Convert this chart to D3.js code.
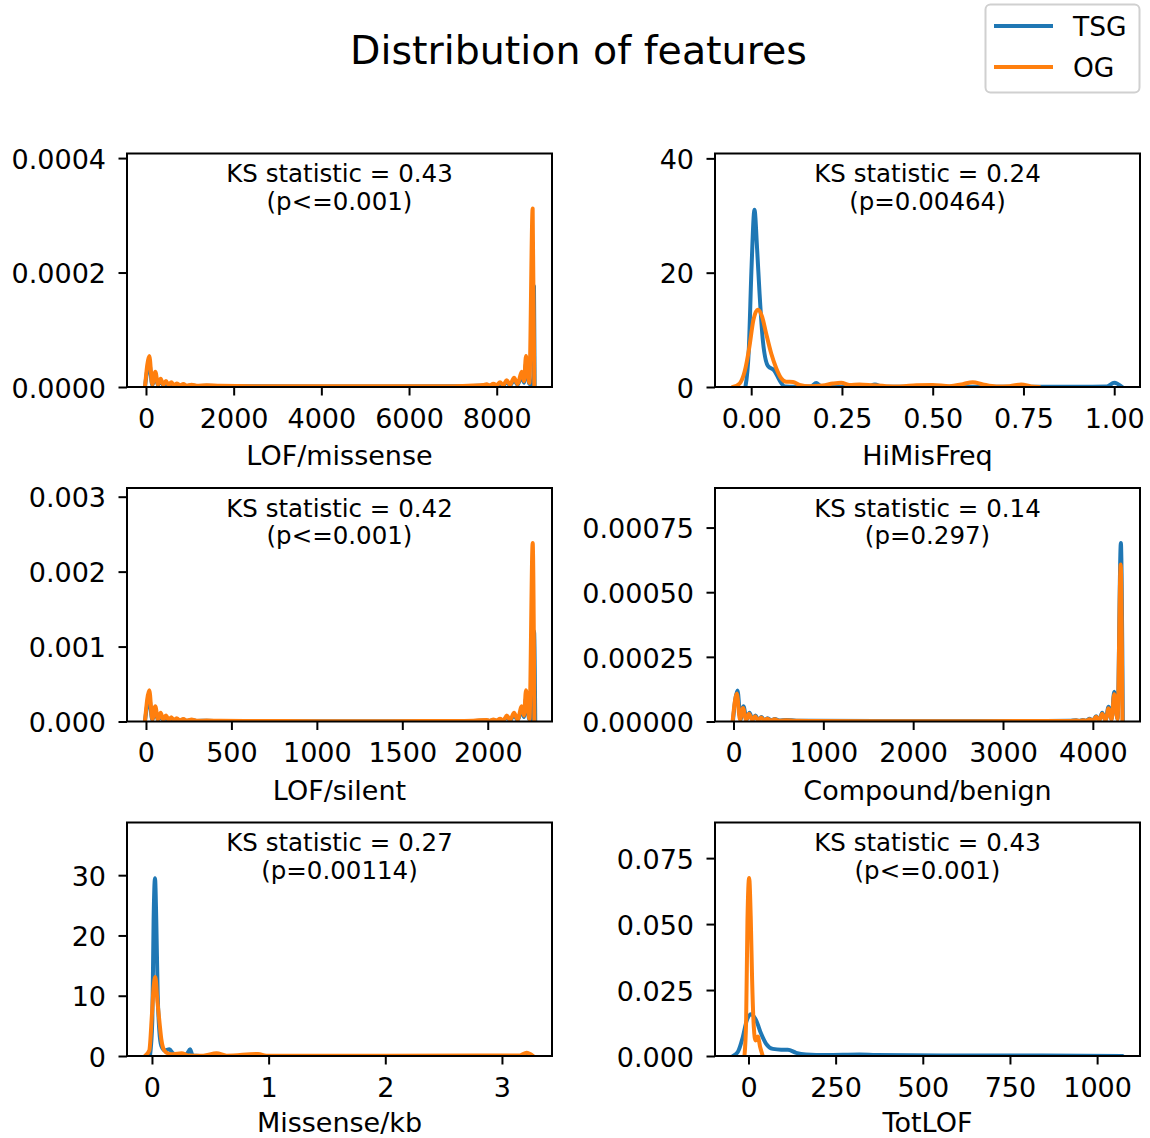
<!DOCTYPE html>
<html><head><meta charset="utf-8">
<script src="https://cdn.jsdelivr.net/npm/d3@7"></script>
<style>
body{margin:0;background:#fff;}
text{font-family:"DejaVu Sans",sans-serif;fill:#000;}
</style>
</head><body>
<svg id="chart" width="1150" height="1138"></svg>
<script>
// ---------------- DATA ----------------
const chartTitle = "Distribution of features";
const seriesNames = ["TSG", "OG"];
const featureNames = ["LOF/missense", "HiMisFreq", "LOF/silent", "Compound/benign", "Missense/kb", "TotLOF"];
const ksStats = ["0.43", "0.24", "0.42", "0.14", "0.27", "0.43"];
const pValues = ["p<=0.001", "p=0.00464", "p<=0.001", "p=0.297", "p=0.00114", "p<=0.001"];

const xLimits = [[-433, 9261], [-0.0997, 1.071], [-111, 2376], [-206, 4525], [-0.214, 3.429], [-96, 1123]];
const yLimits = [[0, 0.000408], [0, 40.85], [0, 0.003116], [0, 0.000903], [0, 38.74], [0, 0.0885]];

const xTickValues = [[0, 2000, 4000, 6000, 8000], [0, 0.25, 0.5, 0.75, 1], [0, 500, 1000, 1500, 2000], [0, 1000, 2000, 3000, 4000], [0, 1, 2, 3], [0, 250, 500, 750, 1000]];
const xTickLabels = [["0", "2000", "4000", "6000", "8000"], ["0.00", "0.25", "0.50", "0.75", "1.00"], ["0", "500", "1000", "1500", "2000"], ["0", "1000", "2000", "3000", "4000"], ["0", "1", "2", "3"], ["0", "250", "500", "750", "1000"]];
const yTickValues = [[0, 0.0002, 0.0004], [0, 20, 40], [0, 0.001, 0.002, 0.003], [0, 0.00025, 0.0005, 0.00075], [0, 10, 20, 30], [0, 0.025, 0.05, 0.075]];
const yTickLabels = [["0.0000", "0.0002", "0.0004"], ["0", "20", "40"], ["0.000", "0.001", "0.002", "0.003"], ["0.00000", "0.00025", "0.00050", "0.00075"], ["0", "10", "20", "30"], ["0.000", "0.025", "0.050", "0.075"]];

// KDE curves, [x, density]
const lofMissenseTSG = [[-23,0],[76,4.1e-5],[144,3.5e-6],[213,2.0e-5],[274,3.5e-6],[335,1.1e-5],[395,3.0e-6],[456,7.8e-6],[517,2.6e-6],[578,6.1e-6],[639,2.2e-6],[700,4.7e-6],[776,2.2e-6],[852,3.9e-6],[928,1.7e-6],[1042,3.0e-6],[1156,1.7e-6],[1384,2.2e-6],[1688,1.5e-6],[2448,1.1e-6],[3969,0.9e-6],[5490,0.9e-6],[7010,1.1e-6],[7467,1.9e-6],[7695,2.6e-6],[7771,3.5e-6],[7847,1.9e-6],[7923,4.4e-6],[7999,2.3e-6],[8075,6.1e-6],[8151,2.6e-6],[8228,8.7e-6],[8304,3.0e-6],[8395,1.2e-5],[8478,3.8e-6],[8569,2.0e-5],[8622,7.5e-6],[8668,4.1e-5],[8744,5.2e-6],[8810,5e-6],[8838,2e-5],[8850,1.762e-4],[8866,0]];
const lofMissenseOG = [[-23,0],[76,5.4e-5],[144,4.6e-6],[213,2.67e-5],[274,4.6e-6],[335,1.45e-5],[395,4.0e-6],[456,1.04e-5],[517,3.4e-6],[578,8.1e-6],[639,2.9e-6],[700,6.3e-6],[776,2.9e-6],[852,5.2e-6],[928,2.3e-6],[1042,4.0e-6],[1156,2.3e-6],[1384,3.0e-6],[1688,2.0e-6],[2448,1.5e-6],[3969,1.2e-6],[5490,1.2e-6],[7010,1.5e-6],[7467,2.5e-6],[7695,3.5e-6],[7771,4.6e-6],[7847,2.5e-6],[7923,5.8e-6],[7999,3.0e-6],[8075,8.1e-6],[8151,3.5e-6],[8228,1.16e-5],[8304,4.0e-6],[8395,1.62e-5],[8478,5.0e-6],[8569,2.67e-5],[8622,1.0e-5],[8668,5.4e-5],[8744,6.9e-6],[8820,3.118e-4],[8858,0]];

const hiMisFreqTSG = [[-0.016,0],[-0.0066,6.5],[0.001,21],[0.009,31.0],[0.0165,23.9],[0.023,16.4],[0.032,8.2],[0.046,3.7],[0.064,2.85],[0.078,1.2],[0.092,0.1],[0.12,0.04],[0.165,0.1],[0.179,0.7],[0.193,0.1],[0.22,0.04],[0.32,0.05],[0.341,0.45],[0.36,0.05],[0.5,0.03],[0.7,0.03],[0.9,0.03],[0.98,0.08],[1.0,0.75],[1.022,0]];
const hiMisFreqOG = [[-0.0507,0],[-0.032,0.6],[-0.018,2.7],[-0.005,7.0],[0.006,11.7],[0.018,13.5],[0.030,12.3],[0.041,9.4],[0.055,5.9],[0.069,3.3],[0.083,1.5],[0.096,0.93],[0.115,0.87],[0.133,0.35],[0.161,0.12],[0.197,0.25],[0.225,0.6],[0.248,0.75],[0.271,0.35],[0.298,0.45],[0.335,0.3],[0.372,0.15],[0.409,0.1],[0.455,0.3],[0.5,0.35],[0.546,0.15],[0.583,0.5],[0.61,0.85],[0.638,0.45],[0.675,0.08],[0.712,0.15],[0.744,0.45],[0.771,0.1],[0.794,0]];

const lofSilentTSG = [[-6,0],[19.5,3.1e-4],[37,2.0e-5],[54.6,1.5e-4],[70,2.0e-5],[86,8.6e-5],[101,1.6e-5],[117,6.0e-5],[133,1.3e-5],[148,4.3e-5],[164,1.1e-5],[179.5,3.3e-5],[199,1.0e-5],[218.5,2.6e-5],[238,7.5e-6],[267,1.9e-5],[297,7.5e-6],[355,9.5e-6],[433,6.7e-6],[628,5.2e-6],[1018,3.7e-6],[1409,3.7e-6],[1799,5.2e-6],[1916,8.2e-6],[1994,1.5e-5],[2013,8.2e-6],[2033,1.9e-5],[2052,9.7e-6],[2072,2.7e-5],[2092,1.1e-5],[2111,6.0e-5],[2131,1.5e-5],[2154,8.7e-5],[2175,1.9e-5],[2199,1.54e-4],[2212,6e-5],[2224,3.1e-4],[2244,2.2e-5],[2258,3e-5],[2271,1.205e-3],[2278,0]];
const lofSilentOG = [[-6,0],[19.5,4.18e-4],[37,2.7e-5],[54.6,2.05e-4],[70,2.7e-5],[86,1.16e-4],[101,2.2e-5],[117,8.0e-5],[133,1.8e-5],[148,5.8e-5],[164,1.5e-5],[179.5,4.5e-5],[199,1.3e-5],[218.5,3.5e-5],[238,1.0e-5],[267,2.6e-5],[297,1.0e-5],[355,1.3e-5],[433,9e-6],[628,7e-6],[1018,5e-6],[1409,5e-6],[1799,7e-6],[1916,1.1e-5],[1994,2.0e-5],[2013,1.1e-5],[2033,2.6e-5],[2052,1.3e-5],[2072,3.6e-5],[2092,1.5e-5],[2111,8.0e-5],[2131,2.0e-5],[2154,1.16e-4],[2175,2.5e-5],[2199,2.05e-4],[2212,8e-5],[2224,4.18e-4],[2244,3e-5],[2263,2.383e-3],[2273,0]];

const compoundBenignTSG = [[-7,0],[44.5,1.2e-4],[78,7.9e-6],[111,5.9e-5],[145,7e-6],[178,3.4e-5],[212,6e-6],[245,2.3e-5],[278,5e-6],[312,1.7e-5],[345,4.5e-6],[379,1.3e-5],[419,4e-6],[460,1.0e-5],[512,3.5e-6],[586,6e-6],[698,3e-6],[846,2.5e-6],[1588,1.5e-6],[2701,1.5e-6],[3444,2e-6],[3741,2.5e-6],[3815,4.5e-6],[3852,2.5e-6],[3889,6e-6],[3926,3e-6],[3963,1.04e-5],[4000,3.5e-6],[4037,2.07e-5],[4071,4e-6],[4104,3.36e-5],[4141,5e-6],[4175,5.68e-5],[4208,8e-6],[4238,1.15e-4],[4275,1e-5],[4312,6.9e-4],[4334,0]];
const compoundBenignOG = [[-10,0],[37,1.08e-4],[72,7e-6],[106,5.2e-5],[140,6e-6],[173,3.0e-5],[207,5e-6],[240,2.0e-5],[274,4.5e-6],[308,1.5e-5],[341,4e-6],[375,1.1e-5],[415,3.5e-6],[456,8.5e-6],[508,3e-6],[582,5e-6],[694,2.5e-6],[846,2e-6],[1588,1.2e-6],[2701,1.2e-6],[3444,1.7e-6],[3741,2e-6],[3815,3.8e-6],[3852,2e-6],[3889,5e-6],[3926,2.5e-6],[3963,9e-6],[4000,3e-6],[4037,1.8e-5],[4071,3.5e-6],[4104,3.0e-5],[4141,4.5e-6],[4175,5.1e-5],[4208,7e-6],[4238,1.05e-4],[4275,9e-6],[4310,6.07e-4],[4330,0]];

const missensePerKbTSG = [[-0.017,0],[0.003,5.9],[0.014,22.5],[0.026,29.5],[0.037,22.5],[0.049,10.3],[0.063,4.2],[0.080,1.7],[0.111,0.9],[0.149,1.1],[0.183,0.4],[0.24,0.1],[0.297,0.3],[0.326,1.1],[0.349,0.1],[0.41,0.02],[1.0,0.02],[2.0,0.02],[3.0,0.02],[3.25,0]];
const missensePerKbOG = [[-0.06,0],[-0.023,0.9],[0.0,7.0],[0.014,11.4],[0.029,13.1],[0.046,9.2],[0.063,5.9],[0.080,2.8],[0.103,1.0],[0.14,0.4],[0.183,0.3],[0.254,0.45],[0.311,0.1],[0.44,0.05],[0.554,0.45],[0.64,0.05],[0.911,0.35],[0.98,0.05],[2.01,0.05],[3.154,0.1],[3.211,0.55],[3.268,0]];

const totLofTSG = [[-45,0],[-30.6,0.0015],[-16.3,0.0071],[-4.8,0.0135],[7.6,0.0158],[22,0.0135],[36.4,0.0084],[50.7,0.0046],[69.8,0.0027],[93.7,0.0024],[112.8,0.0024],[136.8,0.0012],[165,0.0006],[223,0.0004],[318,0.0006],[366,0.0004],[557,0.0002],[844,0.0002],[1073,0]];
const totLofOG = [[-11.5,0],[-6.7,0.0135],[-2.9,0.0515],[1.9,0.0675],[6.7,0.0515],[10.5,0.0287],[15.3,0.011],[20,0.0059],[26.8,0.0074],[33.5,0.0034],[41,0]];

const tsgSeries = [lofMissenseTSG, hiMisFreqTSG, lofSilentTSG, compoundBenignTSG, missensePerKbTSG, totLofTSG];
const ogSeries = [lofMissenseOG, hiMisFreqOG, lofSilentOG, compoundBenignOG, missensePerKbOG, totLofOG];
const seriesColors = ["#1f77b4", "#ff7f0e"];

// ---------------- DRAW ----------------
const svg = d3.select("#chart");
svg.append("rect").attr("width", 1150).attr("height", 1138).attr("fill", "#fff");

const colX = [127, 715], rowY = [153.5, 488, 822.5], W = 425, H = 233.5;
const labelOffset = [78, 78, 76];
const fs = 27;
const lw = 4;

featureNames.forEach((name, i) => {
  const row = Math.floor(i / 2);
  const x0 = colX[i % 2], y0 = rowY[row];
  const x = d3.scaleLinear().domain(xLimits[i]).range([x0, x0 + W]);
  const y = d3.scaleLinear().domain(yLimits[i]).range([y0 + H, y0]);
  const g = svg.append("g");
  const clipId = "clip" + i;
  g.append("clipPath").attr("id", clipId).append("rect")
    .attr("x", x0).attr("y", y0).attr("width", W).attr("height", H);

  const line = d3.line().x(d => x(d[0])).y(d => y(d[1])).curve(d3.curveMonotoneX);
  [tsgSeries[i], ogSeries[i]].forEach((s, k) => {
    g.append("path").attr("d", line(s)).attr("clip-path", `url(#${clipId})`)
      .attr("fill", "none").attr("stroke", seriesColors[k]).attr("stroke-width", lw)
      .attr("stroke-linejoin", "round").attr("stroke-linecap", "round");
  });

  // spines
  g.append("rect").attr("x", x0).attr("y", y0).attr("width", W).attr("height", H)
    .attr("fill", "none").attr("stroke", "#000").attr("stroke-width", 2);

  const xa = g.append("g").attr("transform", `translate(0,${y0 + H})`)
    .call(d3.axisBottom(x).tickValues(xTickValues[i]).tickFormat((d, j) => xTickLabels[i][j]).tickSize(8.5).tickPadding(13));
  const ya = g.append("g").attr("transform", `translate(${x0},0)`)
    .call(d3.axisLeft(y).tickValues(yTickValues[i]).tickFormat((d, j) => yTickLabels[i][j]).tickSize(8.5).tickPadding(12.5));
  [xa, ya].forEach(a => {
    a.select(".domain").remove();
    a.selectAll(".tick line").attr("stroke", "#000").attr("stroke-width", 2);
    a.selectAll(".tick text").attr("font-size", fs).attr("font-family", "DejaVu Sans").attr("fill", "#000");
  });
  ya.selectAll(".tick text").attr("dy", "0.38em");

  // axis label
  g.append("text").attr("x", x0 + W / 2).attr("y", y0 + H + labelOffset[row])
    .attr("text-anchor", "middle").attr("font-size", fs).text(name);

  // KS annotation
  g.append("text").attr("x", x0 + W / 2).attr("y", y0 + 28.5)
    .attr("text-anchor", "middle").attr("font-size", 24.5).text("KS statistic = " + ksStats[i]);
  g.append("text").attr("x", x0 + W / 2).attr("y", y0 + 56)
    .attr("text-anchor", "middle").attr("font-size", 24.5).text("(" + pValues[i] + ")");
});

// title
svg.append("text").attr("x", 578.5).attr("y", 64).attr("text-anchor", "middle")
  .attr("font-size", 39.5).text(chartTitle);

// legend
const lg = svg.append("g");
lg.append("rect").attr("x", 985.5).attr("y", 4.5).attr("width", 154).attr("height", 88)
  .attr("rx", 5).attr("fill", "#fff").attr("stroke", "#d0d0d0").attr("stroke-width", 2);
seriesNames.forEach((n, k) => {
  const ly = 26 + k * 41;
  lg.append("line").attr("x1", 994).attr("x2", 1053).attr("y1", ly).attr("y2", ly)
    .attr("stroke", seriesColors[k]).attr("stroke-width", lw);
  lg.append("text").attr("x", 1073).attr("y", ly + 10).attr("font-size", 26.5).text(n);
});
</script>
</body></html>
